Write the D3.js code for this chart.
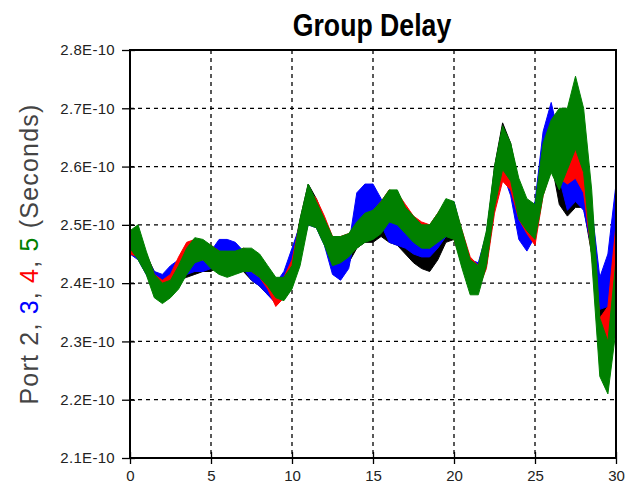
<!DOCTYPE html>
<html>
<head>
<meta charset="utf-8">
<script src="https://cdn.jsdelivr.net/npm/d3@7"></script>
<style>
  body { margin: 0; background: #fff; }
  svg { display: block; }
</style>
</head>
<body>
<div class="chart"></div>
<script>
// values in units of 1E-12 s (so 246 = 2.46E-10 s), frequency axis 0..30
const freq = [0,0.5,1,1.5,2,2.5,3,3.5,4,4.5,5,5.5,6,6.5,7,7.5,8,8.5,9,9.5,10,10.5,11,11.5,12,12.5,13,13.5,14,14.5,15,15.5,16,16.5,17,17.5,18,18.5,19,19.5,20,20.5,21,21.5,22,22.5,23,23.5,24,24.5,25,25.5,26,26.5,27,27.5,28,28.5,29,29.5,30]

const port2Lo = [245,244.5,242,239,238,239,240.5,241,241.5,242,242,243,243,242.5,242,240.5,239.5,238,237,238,240.5,245,251,250.5,247,243,242,243.5,246,247,247,248,247,246.5,245,243.5,242.5,242,244,247,247.5,243.5,239.5,239,243,253,260,258,251.5,249,248,256,261,253.5,251.5,253,253,245,233,229,238]
const port2Hi = [247.5,247,245,242,241,242,243.5,244,244.5,244.5,244.5,245.5,246,245.5,245,243.5,242.5,241,240,241,244,251,257,254.5,251,247,246,247,249.5,250.5,250.5,251.5,250.5,250,249,247.5,246,245.5,248,252,252.5,248,244,243,248,260,267.5,264,257,254,253.5,263,267,259,257,259,258,251,239,237,246]

const port3Lo = [245,244,241.5,239,238.5,239.5,241,241.5,242,242,242.5,244,244,243.5,242.5,240.5,239.5,238,236.5,238,241.5,245,250,249.5,246.5,241.5,240.5,242.5,249.5,252,251.5,250,247,246.5,246,245,244.5,244.5,246,248,248,243,239,239.5,244,253,259,255,247.5,245.5,248,259,265,258,252.5,254,252.5,246,235.5,236,246]
const port3Hi = [247,246.5,244.5,242,241.5,243,244,244.5,244.5,244.5,245.5,247.5,247.5,247,245.5,244,242.5,241,240,242,246,250,255.5,253.5,250.5,245.5,245,246.5,255.5,257,257,254.5,251,250,249.5,248.5,248,248,250.5,254,254,248.5,244,243.5,248.5,259,265,261,253,251,254,266,271,265,259,262.5,261,253,241,245,257]

const port4Lo = [245,244.5,242,238.5,237.5,238,241,243,244,244,243.5,242.5,242,242,242.5,242,241,239,236,237.5,240.5,244.5,250.5,250,247.5,244,244,245,246.5,247.5,248,249.5,251,250.5,249,247.5,246.5,246,247.5,249,247.5,243.5,239.5,239,242.5,252,257.5,256,251,248.5,246.5,255,259.5,258,257,258,255.5,245,228,229,238]
const port4Hi = [247,247,245,241.5,240.5,241.5,244.5,247,247.5,247,246.5,245.5,245,245,246,245.5,244.5,242.5,239.5,241,244,250.5,256,254.5,251.5,248,248,248.5,250,251.5,252.5,254,256,255.5,253.5,251.5,250.5,250,252,254,253.5,249,244.5,243,248,258,263,262,257,254,252,262,266,264,262,264,261,252,234,236,250]

const port5Lo = [246,244,241.5,237.5,236.5,237.5,239,241.5,243.5,244,242.5,241.5,241,241.5,242,242,241,239.5,237.5,237,239,243,250,249.5,246.5,243,243.5,244.5,246,247,247.5,248.5,250.5,250,248.5,247,246,246,247,248,247.5,242.5,238,238,243,253,259.5,257.5,251,249,247.5,255,259,256,259.5,263,259,244,224,221,232]
const port5Hi = [249,250,245.5,241.5,240,240.5,243,246,247.8,247.5,246.5,245.5,245.5,245.5,246,246,245,243,241,241,243,251,257,254,251,248,248,248.5,250.5,252,252.5,254,256,256,253,251.5,250,250,252,254.5,254,249,244,243,249,260,267,264,258,254.5,253.5,264,268,270,270,275.5,270,256,234,230,244]

const xTicks = [0,5,10,15,20,25,30]
const yTicks = [210,220,230,240,250,260,270,280]

const series = [
    { name: "Port 2", color: "#000000", lo: port2Lo, hi: port2Hi },
    { name: "Port 3", color: "#0000ff", lo: port3Lo, hi: port3Hi },
    { name: "Port 4", color: "#ff0000", lo: port4Lo, hi: port4Hi },
    { name: "Port 5", color: "#008000", lo: port5Lo, hi: port5Hi }
]

const W = 636, H = 494
const margin = { top: 50, right: 20, bottom: 36, left: 130 }

const svg = d3.select(".chart")
    .append("svg")
    .attr("width", W)
    .attr("height", H)

const x = d3.scaleLinear()
    .domain([0, 30])
    .range([margin.left, W - margin.right])
const y = d3.scaleLinear()
    .domain([210, 280])
    .range([H - margin.bottom, margin.top])

const fmt = d => (d / 100).toFixed(1) + "E-10"

// grid
svg.append("g")
    .selectAll("line.gx")
    .data(xTicks.slice(1, -1))
    .enter()
    .append("line")
    .attr("x1", d => x(d)).attr("x2", d => x(d))
    .attr("y1", y(280)).attr("y2", y(210))
    .style("stroke", "#000")
    .style("stroke-width", 1.3)
    .style("stroke-dasharray", "4,4")
svg.append("g")
    .selectAll("line.gy")
    .data(yTicks.slice(1, -1))
    .enter()
    .append("line")
    .attr("x1", x(0)).attr("x2", x(30))
    .attr("y1", d => y(d)).attr("y2", d => y(d))
    .style("stroke", "#000")
    .style("stroke-width", 1.3)
    .style("stroke-dasharray", "4,4")

// traces
const area = d3.area()
    .x((d, i) => x(freq[i]))
    .y0(d => y(d[0]))
    .y1(d => y(d[1]))

svg.append("g")
    .selectAll("path")
    .data(series)
    .enter()
    .append("path")
    .attr("d", s => area(s.lo.map((v, i) => [v, s.hi[i]])))
    .style("fill", s => s.color)
    .style("stroke", s => s.color)
    .style("stroke-width", 1)

// frame
svg.append("rect")
    .attr("x", x(0)).attr("y", y(280))
    .attr("width", x(30) - x(0))
    .attr("height", y(210) - y(280))
    .style("fill", "none")
    .style("stroke", "#000")
    .style("stroke-width", 2)

// axes
const xAxis = svg.append("g")
    .attr("transform", `translate(0,${y(210)})`)
    .call(d3.axisBottom(x).tickValues(xTicks).tickSize(6).tickPadding(6).tickSizeOuter(0))
xAxis.select(".domain").remove()
xAxis.selectAll(".tick line").attr("y1", -6).attr("y2", 6).style("stroke-width", 1.3)
xAxis.selectAll("text")
    .attr("y", 12)
    .attr("dy", "0.71em")
    .style("font-family", "Liberation Sans, Arial, sans-serif")
    .style("font-size", "15px")
    .style("fill", "#222")

const yAxis = svg.append("g")
    .attr("transform", `translate(${x(0)},0)`)
    .call(d3.axisLeft(y).tickValues(yTicks).tickFormat(fmt).tickSize(8).tickPadding(7))
yAxis.select(".domain").remove()
yAxis.selectAll(".tick line").attr("x1", -8).attr("x2", 5).style("stroke-width", 1.3)
yAxis.selectAll("text")
    .style("font-family", "Liberation Sans, Arial, sans-serif")
    .style("font-size", "15px")
    .style("letter-spacing", "0.3px")
    .style("fill", "#222")

// title, narrow bold
svg.append("text")
    .attr("transform", "translate(372,36) scale(0.86,1)")
    .attr("text-anchor", "middle")
    .style("font-family", "Liberation Sans, Arial, sans-serif")
    .style("font-weight", "bold")
    .style("font-size", "31px")
    .text("Group Delay")

// y label with coloured port numbers
const yl = svg.append("text")
    .attr("transform", `translate(38,${(y(210) + y(280)) / 2}) rotate(-90)`)
    .attr("text-anchor", "middle")
    .style("font-family", "Liberation Sans, Arial, sans-serif")
    .style("font-size", "25px")
    .style("letter-spacing", "1.2px")
    .style("fill", "#444")
const parts = [["Port 2, ", "#444"], ["3", "#0000ff"], [", ", "#444"], ["4", "#ff0000"], [", ", "#444"], ["5", "#008000"], [" (Seconds)", "#444"]]
parts.forEach(p => yl.append("tspan").style("fill", p[1]).text(p[0]))
</script>
</body>
</html>
